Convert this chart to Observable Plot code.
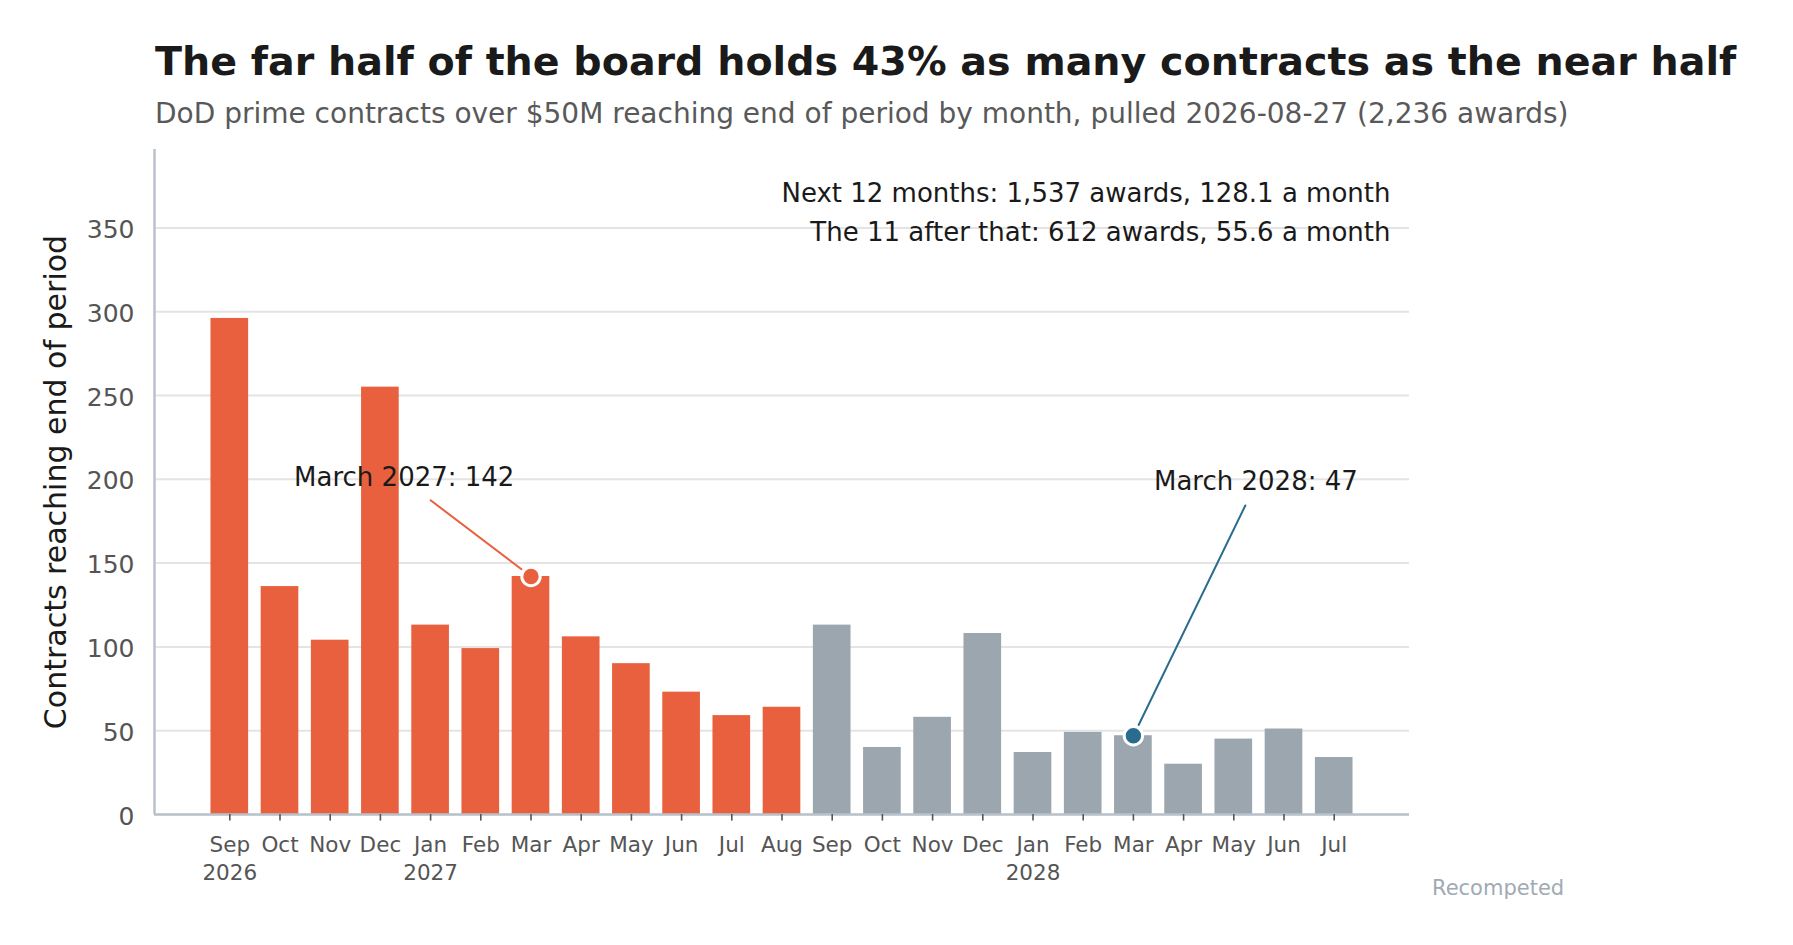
<!DOCTYPE html>
<html>
<head>
<meta charset="utf-8">
<script src="https://cdn.jsdelivr.net/npm/d3@7"></script>
<script src="https://cdn.jsdelivr.net/npm/@observablehq/plot@0.6"></script>
<style>
  body { margin: 0; background: #fff; font-family: "DejaVu Sans", sans-serif; }
  #wrap { position: relative; width: 1793px; height: 945px; overflow: hidden; }
  #title { position: absolute; left: 155px; top: 38.25px; font-size: 39.6px; font-weight: bold; line-height: 46px; color: #1a1a1a; white-space: nowrap; margin: 0; }
  #subtitle { position: absolute; left: 155px; top: 98.6px; font-size: 28px; line-height: 30px; color: #595959; white-space: nowrap; margin: 0; }
  #chart { position: absolute; left: 0; top: 129px; }
  #note { position: absolute; left: 1432px; top: 875.7px; font-size: 21px; line-height: 24px; color: #a0aab4; white-space: nowrap; }
</style>
</head>
<body>
<div id="wrap">
  <div id="title">The far half of the board holds 43% as many contracts as the near half</div>
  <div id="subtitle">DoD prime contracts over $50M reaching end of period by month, pulled 2026-08-27 (2,236 awards)</div>
  <div id="chart"></div>
  <div id="note">Recompeted</div>
</div>
<script>
// ---- data ----
const months = ["Sep","Oct","Nov","Dec","Jan","Feb","Mar","Apr","May","Jun","Jul","Aug",
                "Sep","Oct","Nov","Dec","Jan","Feb","Mar","Apr","May","Jun","Jul"];
const years  = ["2026","","","","2027","","","","","","","",
                "","","","","2028","","","","","",""];
const values = [296,136,104,255,113,99,142,106,90,73,59,64,
                113,40,58,108,37,49,47,30,45,51,34];
const nearCount = 12;           // first 12 months = "near half"
const yTicks = [0,50,100,150,200,250,300,350];
const yLabel = "Contracts reaching end of period";
const calloutMonths = [6, 18];
const calloutLabels = ["March 2027: 142", "March 2028: 47"];

// ---- derived ----
const data = values.map((v, i) => ({i, value: v, near: i < nearCount}));
const tickLabels = months.map((m, i) => years[i] ? m + "\n" + years[i] : m);
const nearVals = values.slice(0, nearCount), farVals = values.slice(nearCount);
const fmt = d3.format(",");
const summary = `Next ${nearVals.length} months: ${fmt(d3.sum(nearVals))} awards, ${d3.mean(nearVals).toFixed(1)} a month\n` +
                `The ${farVals.length} after that: ${fmt(d3.sum(farVals))} awards, ${d3.mean(farVals).toFixed(1)} a month`;

// ---- style / layout ----
const ORANGE = "#E8603D", GREY = "#9CA6AE", BLUE = "#2A6C8E";
const barHalf = 0.375;
const calloutLayout = [
  {color: ORANGE, textDx: -2.525, textY: 200.8, lineDx: -2.0, lineY: 187.5},
  {color: BLUE,   textDx:  2.44,  textY: 198.4, lineDx:  2.23, lineY: 184.4}
];
const callouts = calloutMonths.map((m, k) => ({
  i: m, value: values[m], label: calloutLabels[k], ...calloutLayout[k]
}));

const chart = Plot.plot({
  width: 1793,
  height: 816,
  marginTop: 20,
  marginBottom: 131,
  marginLeft: 154,
  marginRight: 384,
  x: {domain: [-1.5, values.length + 0.5]},
  y: {domain: [0, 396.8]},
  style: {fontFamily: "DejaVu Sans", background: "transparent", color: "#1a1a1a"},
  marks: [
    Plot.gridY(yTicks, {stroke: "#e4e4e4", strokeOpacity: 1, strokeWidth: 2}),
    Plot.rectY(data.filter(d => d.near), {x1: d => d.i - barHalf, x2: d => d.i + barHalf, y: "value", fill: ORANGE}),
    Plot.rectY(data.filter(d => !d.near), {x1: d => d.i - barHalf, x2: d => d.i + barHalf, y: "value", fill: GREY}),
    Plot.ruleY([0], {stroke: "#b9c2cb", strokeWidth: 2.5}),
    Plot.ruleX([-1.5], {stroke: "#b9c2cb", strokeWidth: 2.5}),
    Plot.axisX({ticks: d3.range(values.length), tickFormat: i => tickLabels[i], tickSize: 6.6, tickPadding: 12,
                fontSize: 21.5, color: "#555", strokeWidth: 1.6, lineHeight: 1.27, label: null}),
    Plot.axisY({ticks: yTicks, tickSize: 0, tickPadding: 20, fontSize: 25, color: "#555", label: null, dy: 2}),
    Plot.text([yLabel], {frameAnchor: "left", rotate: -90, dx: -89, lineAnchor: "bottom", textAnchor: "middle",
                         fontSize: 30, fill: "#1a1a1a"}),
    Plot.text([summary], {frameAnchor: "top-right", textAnchor: "end", lineAnchor: "top", lineHeight: 1.5,
                          dx: -19, dy: 25, fontSize: 26, fill: "#1a1a1a"}),
    Plot.arrow(callouts, {x1: d => d.i + d.lineDx, y1: "lineY", x2: "i", y2: "value", stroke: d => d.color,
                          strokeWidth: 2, headLength: 0, insetEnd: 12}),
    Plot.dot(callouts, {x: "i", y: "value", r: 9.2, fill: d => d.color, stroke: "#fff", strokeWidth: 3}),
    Plot.text(callouts, {x: d => d.i + d.textDx, y: "textY", text: "label", fontSize: 26, fill: "#1a1a1a"})
  ]
});
document.getElementById("chart").appendChild(chart);
</script>
</body>
</html>
